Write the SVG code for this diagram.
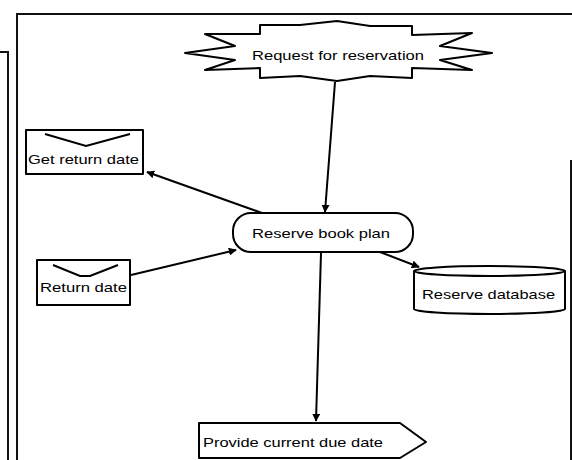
<svg xmlns="http://www.w3.org/2000/svg" width="572" height="460" viewBox="0 0 572 460">
  <style>
    .shape { fill: #ffffff; stroke: #000000; stroke-width: 2; stroke-linejoin: round; }
    .frame { fill: none; stroke: #111111; stroke-width: 2; }
    .flap { fill: none; stroke: #000000; stroke-width: 2; }
    .label { font-family: "Liberation Sans", Arial, sans-serif; font-size: 13px; fill: #000000; }
    .edge { fill: none; stroke: #000000; stroke-width: 2; marker-end: url(#arrow); }
  </style>
  <defs>
    <marker id="arrow" viewBox="0 0 10 10" refX="9" refY="5" markerWidth="4" markerHeight="4" orient="auto" markerUnits="strokeWidth">
      <path d="M0,0 L10,5 L0,10 Z" fill="#000000"/>
    </marker>
  </defs>

  <rect width="572" height="460" fill="#ffffff"/>

  <!-- page frames -->
  <g id="frames">
    <polyline class="frame" points="0,52 8,52 8,460"/>
    <line class="frame" x1="17" y1="14" x2="441" y2="14" stroke-width="3"/>
    <line class="frame" x1="441" y1="14" x2="572" y2="14"/>
    <line class="frame" x1="17" y1="13" x2="17" y2="460"/>
    <line class="frame" x1="571" y1="160" x2="571" y2="460"/>
  </g>

  <!-- connectors -->
  <g id="connectors">
    <line class="edge" x1="335" y1="82" x2="325" y2="212"/>
    <line class="edge" x1="262" y1="213" x2="147" y2="172"/>
    <line class="edge" x1="131" y1="275" x2="236" y2="250"/>
    <line class="edge" x1="380" y1="252" x2="419" y2="267"/>
    <line class="edge" x1="321" y1="253" x2="316" y2="421"/>
  </g>

  <!-- event: request for reservation -->
  <g id="request">
    <polygon class="shape" points="260,25 300,25 337,21 370,26 412,26 412,35 472,33 440,46 492,53 440,60 472,70 412,68 412,78 370,76 337,81 300,76 260,78 260,68 205,70 235,60 185,53 235,46 205,34 260,34"/>
    <text class="label" x="338" y="60" text-anchor="middle" textLength="172" lengthAdjust="spacingAndGlyphs">Request for reservation</text>
  </g>

  <!-- process: reserve book plan -->
  <g id="plan">
    <rect class="shape" x="233" y="213" width="180" height="39" rx="18" ry="18"/>
    <text class="label" x="321" y="238" text-anchor="middle" textLength="138" lengthAdjust="spacingAndGlyphs">Reserve book plan</text>
  </g>

  <!-- message: get return date -->
  <g id="get-return-date">
    <rect class="shape" x="26" y="130" width="117" height="44"/>
    <polyline class="flap" points="45,134 86,146 130,134"/>
    <text class="label" x="28" y="164" textLength="111" lengthAdjust="spacingAndGlyphs">Get return date</text>
  </g>

  <!-- message: return date -->
  <g id="return-date">
    <rect class="shape" x="37" y="260" width="93" height="45"/>
    <polyline class="flap" points="53,265 80,276 90,276 118,265"/>
    <text class="label" x="40" y="292" textLength="87" lengthAdjust="spacingAndGlyphs">Return date</text>
  </g>

  <!-- store: reserve database -->
  <g id="database">
    <path class="shape" d="M414,271 L414,309 A75.5,5 0 0 0 565,309 L565,271 A75.5,5 0 0 0 414,271 Z"/>
    <path class="flap" d="M414,271 A75.5,5 0 0 0 565,271"/>
    <text class="label" x="422" y="299" textLength="133" lengthAdjust="spacingAndGlyphs">Reserve database</text>
  </g>

  <!-- output: provide current due date -->
  <g id="provide">
    <polygon class="shape" points="199,423 400,423 426,442 400,458 199,458"/>
    <text class="label" x="203" y="447" textLength="180" lengthAdjust="spacingAndGlyphs">Provide current due date</text>
  </g>
</svg>
